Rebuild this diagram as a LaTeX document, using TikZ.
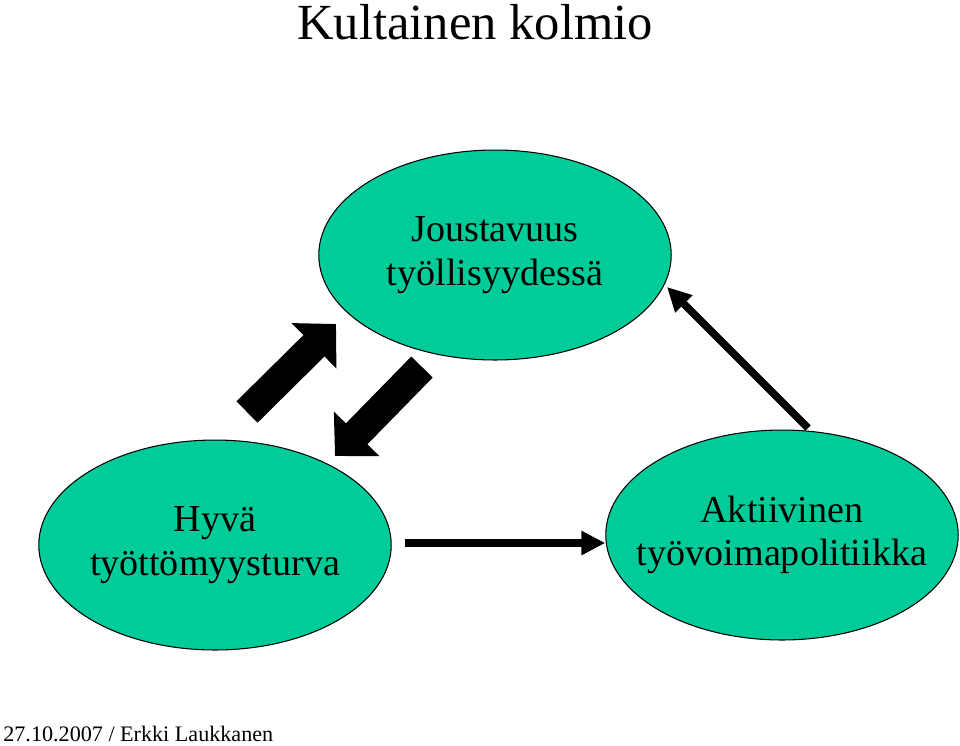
\documentclass[tikz,border=0pt]{standalone}
\usepackage{fontspec}
\setmainfont{Liberation Serif}
\usetikzlibrary{shapes.geometric,arrows.meta}
\definecolor{ellgreen}{HTML}{00CC99}
\begin{document}
\begin{tikzpicture}[x=0.02cm, y=-0.02cm,
  blob/.style={ellipse, draw, line width=0.6pt, fill=ellgreen, inner sep=0pt,
               minimum width=7.05cm, minimum height=4.2cm,
               label={[align=center, font=\fontsize{21.7}{24.8}\selectfont]center:#1}},
  thinarr/.style={-{Triangle[length=0.48cm, width=0.46cm]}, line width=0.15cm},
  fatarr/.style={-{Triangle[length=0.62cm, width=1.24cm]}, line width=0.6cm}
]
  \useasboundingbox (0,0) rectangle (960,745);
  \node (title) at (475,22) {\fontsize{28.8}{32}\selectfont Kultainen kolmio};
  \node[blob={Joustavuus\\työllisyydessä}] (jousto) at (495,255) {};
  \node[blob={Hyvä\\työttömyysturva}] (turva) at (215,545) {};
  \node[blob={Aktiivinen\\työvoimapolitiikka}] (aktiivi) at (782,535) {};
  \node[anchor=base west, inner sep=0pt] (footer) at (3,741) {\fontsize{12.6}{15}\selectfont 27.10.2007 / Erkki Laukkanen};
  % block arrows
  \coordinate (upA) at (247,412);
  \coordinate (upB) at (336,324);
  \coordinate (dnA) at (422,367);
  \coordinate (dnB) at (335,456);
  \draw[fatarr] (upA) -- (upB);
  \draw[fatarr] (dnA) -- (dnB);
  \draw[thinarr] (turva.east) ++(13,-2) coordinate (hA) -- (aktiivi.west |- hA);
  \coordinate (dgA) at (808,428);
  \coordinate (dgB) at (667,287);
  \draw[thinarr] (dgA) -- (dgB);
\end{tikzpicture}
\end{document}
